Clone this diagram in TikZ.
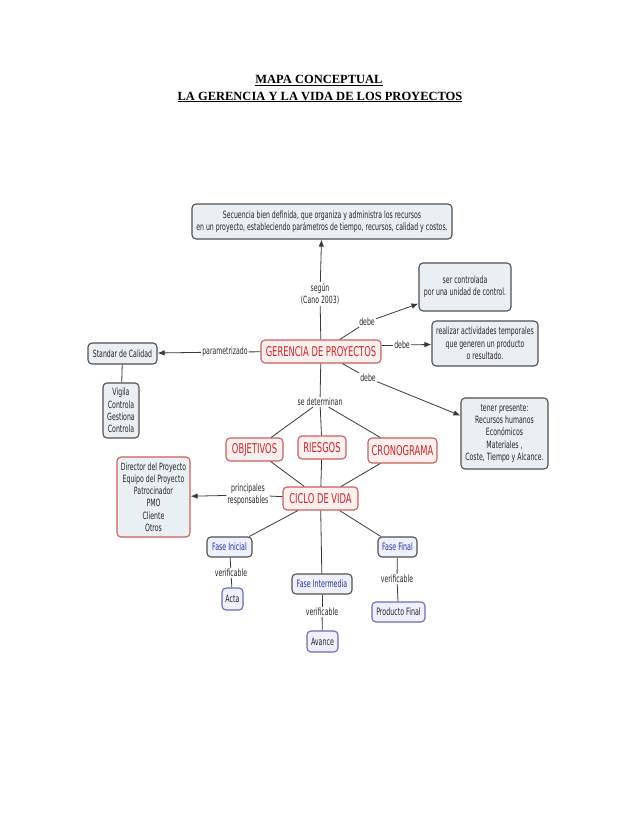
\documentclass[tikz,border=0pt]{standalone}
\usepackage{fontspec}
\setmainfont{Liberation Serif}
\newfontfamily\mapfont[FakeStretch=0.62]{DejaVu Sans}
\usetikzlibrary{arrows.meta}
\definecolor{grayfill}{HTML}{E9EFF3}
\definecolor{grayline}{HTML}{505050}
\definecolor{redfill}{HTML}{FCEFEF}
\definecolor{redline}{HTML}{C9605E}
\definecolor{redtext}{HTML}{C8262B}
\definecolor{bluefill}{HTML}{EEF0FB}
\definecolor{blueline}{HTML}{6A6AC0}
\definecolor{bluetext}{HTML}{2B2FA0}
\definecolor{linkc}{HTML}{3A3A3A}
\definecolor{txtc}{HTML}{262626}
\tikzset{
  basebox/.style={rounded corners=4bp, inner sep=0pt, align=center, line width=1.1bp},
  graybox/.style={basebox, draw=grayline, fill=grayfill, text=txtc, font=\mapfont\fontsize{10bp}{12.4bp}\selectfont},
  redbox/.style={basebox, draw=redline, fill=redfill, text=redtext, font=\mapfont\fontsize{13.5bp}{16bp}\selectfont},
  dirbox/.style={basebox, draw=redline, fill=grayfill, text=txtc, font=\mapfont\fontsize{10bp}{12.2bp}\selectfont},
  fasebox/.style={basebox, draw=grayline, fill=bluefill, text=bluetext, font=\mapfont\fontsize{10.2bp}{12.5bp}\selectfont},
  endbox/.style={basebox, draw=blueline, fill=bluefill, text=txtc, font=\mapfont\fontsize{10.2bp}{12.5bp}\selectfont},
  lab/.style={inner sep=1bp, align=center, text=txtc, font=\mapfont\fontsize{10bp}{12.4bp}\selectfont},
  link/.style={draw=linkc, line width=0.8bp},
  arr/.style={link, -{Latex[length=7bp,width=5.5bp]}}
}
\begin{document}
\begin{tikzpicture}[x=1bp,y=-1bp]
\useasboundingbox[fill=white] (0,0) rectangle (638,826);
% title
\node[font=\bfseries\fontsize{12.5bp}{15bp}\selectfont, inner sep=0pt] (t1) at (319,80.5) {\underline{MAPA CONCEPTUAL}};
\node[font=\bfseries\fontsize{12.5bp}{15bp}\selectfont, inner sep=0pt] (t2) at (320,97) {\underline{LA GERENCIA Y LA VIDA DE LOS PROYECTOS}};

% nodes
\node[graybox, minimum width=260bp, minimum height=35bp] (top) at (322,221.5) {Secuencia bien definida, que organiza y administra los recursos\\en un proyecto, estableciendo parámetros de tiempo, recursos, calidad y costos.};
\node[redbox, minimum width=120bp, minimum height=23bp] (ger) at (321,351.5) {GERENCIA DE PROYECTOS};
\node[graybox, minimum width=69bp, minimum height=21bp] (std) at (122.5,353.5) {Standar de Calidad};
\node[graybox, minimum width=36bp, minimum height=55bp] (vig) at (121,410.5) {Vigila\\Controla\\Gestiona\\Controla};
\node[graybox, minimum width=92bp, minimum height=48bp] (ser) at (465,287) {ser controlada\\por una unidad de control.};
\node[graybox, minimum width=106bp, minimum height=45bp] (real) at (485,343.5) {realizar actividades temporales\\que generen un producto\\o resultado.};
\node[graybox, minimum width=87bp, minimum height=71bp] (ten) at (504.5,433.5) {tener presente:\\Recursos humanos\\Económicos\\Materiales ,\\Coste, Tiempo y Alcance.};
\node[redbox, minimum width=57bp, minimum height=23bp] (obj) at (254.5,449.5) {OBJETIVOS};
\node[redbox, minimum width=48bp, minimum height=23bp] (rie) at (322,447.5) {RIESGOS};
\node[redbox, minimum width=69bp, minimum height=25bp] (cro) at (402.5,450.5) {CRONOGRAMA};
\node[redbox, minimum width=75bp, minimum height=23bp] (cic) at (320.5,498.5) {CICLO DE VIDA};
\node[dirbox, minimum width=73bp, minimum height=80bp] (dir) at (153.5,497) {Director del Proyecto\\Equipo del Proyecto\\Patrocinador\\PMO\\Cliente\\Otros};
\node[fasebox, minimum width=45bp, minimum height=20bp] (fi) at (229.5,547) {Fase Inicial};
\node[endbox, minimum width=21bp, minimum height=22bp] (acta) at (232.5,599) {Acta};
\node[fasebox, minimum width=60bp, minimum height=20bp] (fint) at (322,584) {Fase Intermedia};
\node[endbox, minimum width=31bp, minimum height=21bp] (av) at (322.5,641.5) {Avance};
\node[fasebox, minimum width=39bp, minimum height=20bp] (ff) at (397.5,547) {Fase Final};
\node[endbox, minimum width=53bp, minimum height=20bp] (pf) at (398.5,612) {Producto Final};

% labels
\node[lab] (sg) at (320,294) {según\\(Cano 2003)};
\node[lab] (par) at (225,352) {parametrizado};
\node[lab] (d1) at (367,322) {debe};
\node[lab] (d2) at (402,345) {debe};
\node[lab] (d3) at (368,378) {debe};
\node[lab] (sd) at (320,402) {se determinan};
\node[lab] (pr) at (248,495) {principales\\responsables};
\node[lab] (v1) at (231,573) {verificable};
\node[lab] (v2) at (322,612) {verificable};
\node[lab] (v3) at (397,579) {verificable};

% links
\draw[link] (ger) -- (sg);
\draw[arr] (sg) -- (top);
\draw[link] (ger) -- (par);
\draw[arr] (par) -- (std);
\draw[link] (std) -- (vig);
\draw[link] (ger) -- (d1);
\draw[arr] (d1) -- (ser);
\draw[link] (d2.west) -- (d2.west -| ger.east);
\draw[arr] (d2) -- (real);
\draw[link] (ger) -- (d3);
\draw[arr] (d3) -- (ten);
\draw[link] (ger) -- (sd);
\draw[link] (sd) -- (obj);
\draw[link] (sd) -- (rie);
\draw[link] (sd) -- (cro);
\draw[link] (obj) -- (cic);
\draw[link] (rie) -- (cic);
\draw[link] (cro) -- (cic);
\draw[link] (cic) -- (pr);
\draw[arr] (pr) -- (dir);
\draw[link] (cic) -- (fi);
\draw[link] (cic) -- (fint);
\draw[link] (cic) -- (ff);
\draw[link] (fi) -- (v1);
\draw[link] (v1) -- (acta);
\draw[link] (fint) -- (v2);
\draw[link] (v2) -- (av);
\draw[link] (ff) -- (v3);
\draw[link] (v3) -- (pf);
\end{tikzpicture}
\end{document}
